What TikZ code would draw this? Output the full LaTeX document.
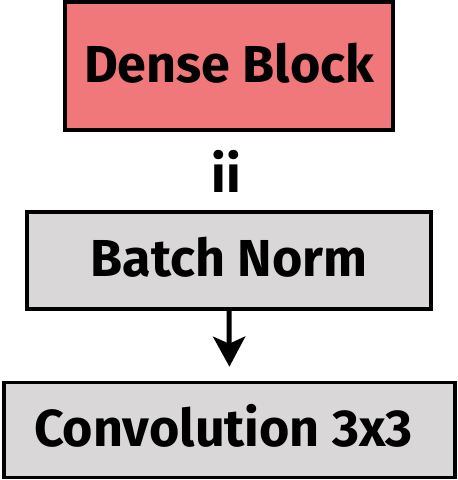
\documentclass[tikz,border=0pt]{standalone}
\usepackage{fontspec}
\setmainfont{Fira Sans}
\usetikzlibrary{arrows.meta}
\definecolor{densered}{HTML}{F0787A}
\definecolor{boxgray}{HTML}{D9D7D8}
\tikzset{
  lblfont/.style={font=\bfseries\fontsize{52}{52}\selectfont},
  box/.style={draw=black, line width=3.6pt, inner sep=0pt, lblfont, text height=32pt, text depth=0pt},
  conn/.style={line width=5pt, -{Stealth[width=32pt,length=30pt,inset=7pt]}}
}
\begin{document}
\begin{tikzpicture}[x=1pt,y=-1pt]
\useasboundingbox (0,0) rectangle (458,480);
\node[box, fill=densered, minimum width=328pt, minimum height=128pt] (dense) at (229,66) {Dense Block};
\node[lblfont, inner sep=0pt, anchor=base] (dots) at (226,192) {ii};
\node[box, fill=boxgray, minimum width=404pt, minimum height=97pt] (bn) at (229,260.5) {Batch Norm};
\node[box, fill=boxgray, minimum width=451pt, minimum height=95pt] (conv) at (229.5,430) {Convolution 3x3\kern12pt\relax};
\draw[conn, shorten >=14pt] (bn.south) -- (conv.north);
\end{tikzpicture}
\end{document}
